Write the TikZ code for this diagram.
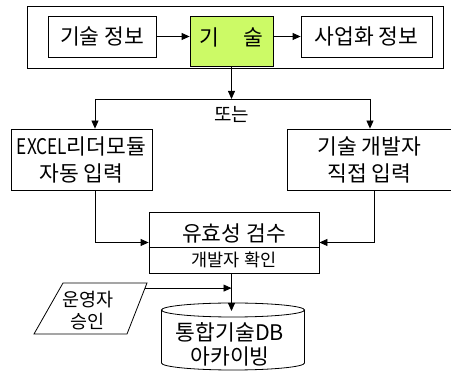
\documentclass[tikz,border=0pt]{standalone}
\usepackage{fontspec}
\setmainfont{Noto Sans CJK KR}
\usetikzlibrary{arrows.meta,calc}
\definecolor{limegreen}{RGB}{204,250,102}
\newcommand\fsA{\fontsize{21.5}{27}\selectfont}
\newcommand\fsB{\fontsize{17.5}{22}\selectfont}
\newcommand\fsC{\fontsize{19}{22}\selectfont}
\newcommand\fsD{\fontsize{18.5}{22}\selectfont}
\begin{document}
\begin{tikzpicture}[x=1pt,y=-1pt,
  box/.style={draw, line width=0.8pt, inner sep=0pt, font=\fsA, align=center},
  arr/.style={line width=0.8pt, -{Triangle[length=8pt,width=7pt]}},
  ln/.style={line width=0.8pt}]
\useasboundingbox (0,0) rectangle (451,371);

% top group
\node[box, minimum width=416pt, minimum height=62pt] (outer) at (235,37) {};
\node[box, minimum width=108pt, minimum height=41pt] (info) at (102,36.5) {기술 정보};
\node[box, fill=limegreen, minimum width=83pt, minimum height=50pt] (tech) at (231.5,41) {};
\node[font=\fsA] (techtext) at (231.5,37) {기\hspace{24pt}술};
\node[box, minimum width=131pt, minimum height=41pt] (biz) at (366.5,36.5) {사업화 정보};

\draw[arr] (info.east) -- (info.east -| tech.west);
\draw[arr] (biz.west -| tech.east) -- (biz.west);

% split
\coordinate (split) at (231.5,99);
\coordinate (sl) at (95,99);
\coordinate (sr) at (370,99);
\draw[arr] (tech.south) -- (split);
\draw[ln] (sl) -- (sr);
\node[font=\fsC] (or) at (231.5,114) {또는};

% input boxes
\node[box, minimum width=141pt, minimum height=61pt] (excel) at (81.5,159.5) {\scalebox{0.8}[1]{EXCEL}리더모듈\\자동 입력};
\node[box, minimum width=165pt, minimum height=61pt] (dev) at (369.5,159.5) {기술 개발자\\직접 입력};
\draw[arr] (sl) -- (sl |- excel.north);
\draw[arr] (sr) -- (sr |- dev.north);

% validation
\node[box, minimum width=170pt, minimum height=61pt] (valid) at (234,242.5) {};
\draw[ln] ($(valid.west)+(0,4.5)$) -- ($(valid.east)+(0,4.5)$);
\node[font=\fsA] (vtop) at (234,233) {유효성 검수};
\node[font=\fsB] (vbot) at (234,260) {개발자 확인};

\coordinate (xr) at (374,0);
\draw[arr] (excel.south -| sl) |- (valid.west);
\draw[arr] (dev.south -| xr) |- (valid.east);

% database cylinder
\coordinate (dbtop) at (231.5,311);
\draw[ln] (161.5,310) -- (161.5,363)
  arc[start angle=180, end angle=360, x radius=71.5pt, y radius=7pt]
  -- (304.5,310);
\draw[ln] (233,310) ellipse [x radius=71.5pt, y radius=7pt];
\node[font=\fsA, align=center, inner sep=0pt] (db) at (230,344.5) {통합기술DB\\[-3pt]아카이빙};
\draw[arr] (valid.south -| split) -- (dbtop);

% operator approval
\coordinate (ptl) at (63,283);
\coordinate (ptr) at (147,283);
\coordinate (pbr) at (127,334);
\coordinate (pbl) at (34,334);
\draw[ln] (ptl) -- (ptr) -- (pbr) -- (pbl) -- cycle;
\node[font=\fsD, align=center] (paratext) at (88,311) {운영자\\승인};
\coordinate (pa) at ($(ptr)!0.1!(pbr)$);
\draw[arr] (pa) -- (pa -| split);
\end{tikzpicture}
\end{document}
